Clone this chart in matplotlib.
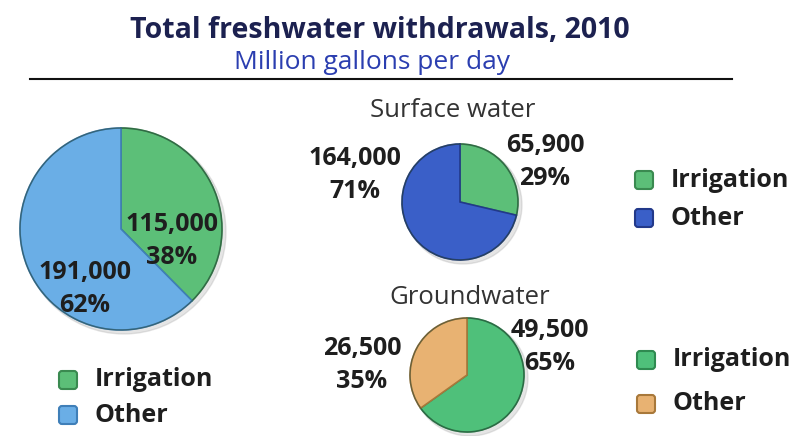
import matplotlib.pyplot as plt
from matplotlib.patches import FancyBboxPatch, Circle

# data
categories = ['Irrigation', 'Other']
total = [115000, 191000]
surface = [65900, 164000]
ground = [49500, 26500]

W, H = 812, 436

fig = plt.figure(figsize=(8.12, 4.36), dpi=100)
ax = fig.add_axes([0, 0, 1, 1])
plt.rcParams['font.family'] = ['Open Sans', 'DejaVu Sans']


def pct(vals):
    s = sum(vals)
    return [round(100 * v / s) for v in vals]


def draw_pie(vals, cx, cy, r, colors, edges):
    # soft shadow
    ax.add_patch(Circle((cx + 3, H - cy - 3), r + 1, color='#999999', alpha=0.25, zorder=1))
    wedges, _ = ax.pie(vals, colors=colors, startangle=90, counterclock=False,
                       center=(cx, H - cy), radius=r, frame=True,
                       wedgeprops=dict(linewidth=1.2))
    for w, e in zip(wedges, edges):
        w.set_edgecolor(e)
        w.set_zorder(2)
    ax.add_patch(Circle((cx, H - cy), r, fill=False, ec='#2a4a3a', lw=1.0, alpha=0.5, zorder=3))


def label(x, y, val, p, ha='center'):
    ax.text(x, H - y, f'{val:,}', ha=ha, va='center', fontsize=18, fontweight='bold', color='#1e1e1e')
    ax.text(x, H - y - 33, f'{p}%', ha=ha, va='center', fontsize=18, fontweight='bold', color='#1e1e1e')


def legend(x, y, colors, edges, gap):
    for i, (c, e, name) in enumerate(zip(colors, edges, categories)):
        yy = H - (y + i * gap)
        ax.add_patch(FancyBboxPatch((x - 9, yy - 9), 18, 18, boxstyle='round,pad=0,rounding_size=3',
                                    fc=c, ec=e, lw=1.5, zorder=3))
        ax.text(x + 27, yy, name, ha='left', va='center', fontsize=18, fontweight='bold', color='#1e1e1e')


# total
tot_c = ['#5cbf78', '#6aaee6']
tot_e = ['#3a8a50', '#3f7fb8']
draw_pie(total, 121, 229, 101, tot_c, tot_e)
tp = pct(total)
label(172, 224, total[0], tp[0])
label(85, 273, total[1], tp[1])
legend(68, 380, tot_c, tot_e, 35)

# surface water
sur_c = ['#5cbf78', '#3a5fc8']
sur_e = ['#3a8a50', '#22398a']
draw_pie(surface, 460, 202, 58, sur_c, sur_e)
sp = pct(surface)
ax.text(453, H - 110, 'Surface water', ha='center', va='center', fontsize=18.5, color='#333333')
label(545, 145, surface[0], sp[0])
label(355, 158, surface[1], sp[1])
legend(644, 180, sur_c, sur_e, 38)

# groundwater
gr_c = ['#4fc07a', '#e8b272']
gr_e = ['#2f8a50', '#a8783a']
draw_pie(ground, 467, 375, 57, gr_c, gr_e)
gp = pct(ground)
ax.text(470, H - 298, 'Groundwater', ha='center', va='center', fontsize=18.5, color='#333333')
label(550, 330, ground[0], gp[0])
label(362, 348, ground[1], gp[1])
legend(646, 360, gr_c, gr_e, 44)

# titles
ax.text(380, H - 30, 'Total freshwater withdrawals, 2010', ha='center', va='center',
        fontsize=20.5, fontweight='bold', color='#1c2150')
ax.text(372, H - 62, 'Million gallons per day', ha='center', va='center',
        fontsize=19, color='#2b3eb0')
ax.plot([30, 732], [H - 79, H - 79], color='#111111', lw=1.5)

ax.set_xlim(0, W)
ax.set_ylim(0, H)
ax.set_aspect('equal')
ax.axis('off')
fig.patch.set_facecolor('white')

plt.savefig('out.png', dpi=100)
